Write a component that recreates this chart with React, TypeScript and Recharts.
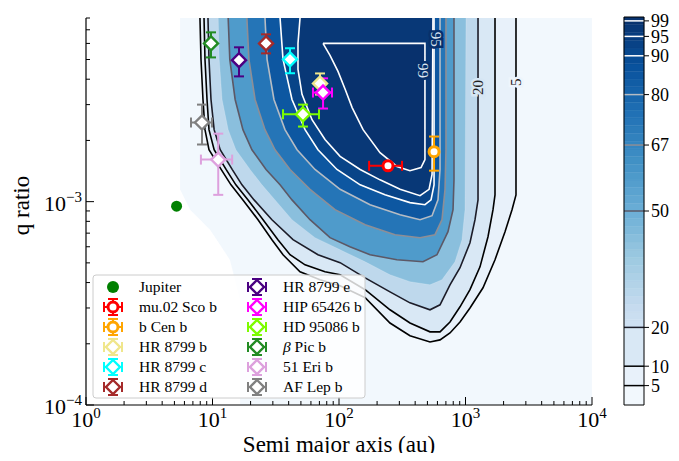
import React from 'react';
import {
  Bar,
  BarChart,
  ComposedChart,
  ErrorBar,
  ReferenceArea,
  ReferenceLine,
  Scatter,
  XAxis,
  YAxis,
} from 'recharts';

const FONT = '"Liberation Serif", "DejaVu Serif", serif';

// axis ticks
const X_TICKS = [
  1, 2, 3, 4, 5, 6, 7, 8, 9, 10, 20, 30, 40, 50, 60, 70, 80, 90, 100, 200, 300,
  400, 500, 600, 700, 800, 900, 1000, 2000, 3000, 4000, 5000, 6000, 7000, 8000,
  9000, 10000,
];
const Y_TICKS = [
  1e-4, 2e-4, 3e-4, 4e-4, 5e-4, 6e-4, 7e-4, 8e-4, 9e-4, 1e-3, 2e-3, 3e-3, 4e-3,
  5e-3, 6e-3, 7e-3, 8e-3,
];
const CB_TICKS = [5, 10, 20, 50, 67, 80, 90, 95, 99];
const CB_LEVELS = [
  0, 5, 10, 20, 22, 24, 26, 28, 30, 32, 34, 36, 38, 40, 42, 44, 46, 48, 50, 52,
  54, 56, 58, 60, 62, 64, 66, 68, 70, 72, 74, 76, 78, 80, 82, 84, 86, 88, 90, 92,
  94, 96, 98, 100,
];

// detection probability contours, [a (au), q]
const C0 = [
  [5.53, 8.0e-3], [5.53, 1.15e-3], [6.64, 9.13e-4], [9.55, 7.28e-4],
  [13.7, 5.18e-4], [16.5, 3.29e-4], [16.5, 1e-4], [10000, 1e-4], [10000, 8.0e-3],
];
const C5 = [
  [7.96, 8.0e-3], [8.11, 5.01e-3], [8.41, 3.18e-3], [8.72, 2.26e-3], [9.38, 1.8e-3],
  [11.7, 1.44e-3], [14.0, 1.21e-3], [17.4, 1.02e-3], [22.9, 8.15e-4], [29.5, 6.5e-4],
  [36.1, 5.48e-4], [49.2, 4.52e-4], [70.8, 4.13e-4], [102, 3.86e-4], [161, 3.37e-4],
  [253, 2.53e-4], [364, 2.19e-4], [524, 2.04e-4], [629, 2.09e-4], [754, 2.26e-4],
  [905, 2.56e-4], [1085, 3.0e-4], [1375, 3.77e-4], [1711, 5.18e-4], [2053, 7.12e-4],
  [2332, 9.13e-4], [2507, 1.08e-3], [2507, 8.0e-3],
];
const C10 = [
  [8.57, 8.0e-3], [8.72, 5.01e-3], [9.05, 3.18e-3], [9.38, 2.26e-3], [10.3, 1.8e-3],
  [12.8, 1.44e-3], [15.3, 1.21e-3], [19.1, 1.02e-3], [25.1, 8.15e-4], [32.9, 6.5e-4],
  [41.0, 5.48e-4], [53.9, 4.89e-4], [77.5, 4.52e-4], [102, 4.37e-4], [161, 3.69e-4],
  [253, 2.94e-4], [364, 2.53e-4], [524, 2.29e-4], [629, 2.29e-4], [754, 2.56e-4],
  [905, 3.04e-4], [1085, 3.69e-4], [1302, 4.78e-4], [1506, 6.72e-4], [1650, 9.13e-4],
  [1711, 1.08e-3], [1711, 8.0e-3],
];
const C20 = [
  [9.21, 8.0e-3], [9.38, 5.01e-3], [9.73, 3.18e-3], [10.3, 2.26e-3], [11.5, 1.8e-3],
  [14.3, 1.44e-3], [17.1, 1.21e-3], [21.3, 1.02e-3], [29.5, 8.15e-4], [43.3, 6.5e-4],
  [68.2, 5.48e-4], [102, 5.01e-4], [161, 4.22e-4], [253, 3.6e-4], [364, 3.18e-4],
  [524, 2.94e-4], [629, 3.11e-4], [754, 3.9e-4], [905, 4.73e-4], [1085, 6.28e-4],
  [1189, 8.15e-4], [1256, 1.02e-3], [1256, 8.0e-3],
];
const C35 = [
  [11.1, 8.0e-3], [11.3, 5.01e-3], [11.9, 3.18e-3], [13.3, 2.26e-3], [15.3, 1.8e-3],
  [19.8, 1.44e-3], [24.6, 1.21e-3], [31.2, 1.02e-3], [42.5, 8.15e-4], [64.6, 6.65e-4],
  [102, 5.8e-4], [161, 5.06e-4], [253, 4.37e-4], [364, 4.04e-4], [524, 3.9e-4],
  [652, 4.13e-4], [826, 5.06e-4], [938, 6.5e-4], [991, 9.13e-4], [1009, 8.0e-3],
];
const C50 = [
  [13.3, 8.0e-3], [13.7, 5.01e-3], [15.1, 3.18e-3], [17.4, 2.26e-3], [20.5, 1.8e-3],
  [26.5, 1.44e-3], [34.2, 1.21e-3], [42.5, 1.02e-3], [59.0, 8.15e-4], [84.9, 6.65e-4],
  [122, 6.0e-4], [176, 5.48e-4], [287, 5.18e-4], [461, 5.06e-4], [595, 5.48e-4],
  [727, 7.12e-4], [797, 9.13e-4], [811, 1.28e-3], [811, 8.0e-3],
];
const C67 = [
  [18.7, 8.0e-3], [19.4, 5.01e-3], [21.7, 3.18e-3], [26.0, 2.26e-3], [31.2, 1.8e-3],
  [41.0, 1.44e-3], [59.0, 1.15e-3], [93.0, 9.13e-4], [161, 7.7e-4], [277, 6.88e-4],
  [437, 6.65e-4], [574, 6.88e-4], [652, 8.15e-4], [689, 1.15e-3], [701, 1.8e-3],
  [701, 8.0e-3],
];
const C80 = [
  [26.0, 8.0e-3], [27.0, 5.01e-3], [30.6, 3.18e-3], [37.4, 2.26e-3], [46.6, 1.8e-3],
  [64.6, 1.44e-3], [102, 1.15e-3], [176, 9.66e-4], [304, 8.63e-4], [437, 8.15e-4],
  [544, 8.53e-4], [606, 1.02e-3], [629, 1.44e-3], [629, 8.0e-3],
];
const C90 = [
  [34.2, 8.0e-3], [36.1, 5.01e-3], [42.5, 3.18e-3], [53.9, 2.26e-3], [68.2, 1.8e-3],
  [96.4, 1.44e-3], [147, 1.21e-3], [231, 1.08e-3], [364, 9.89e-4], [478, 9.66e-4],
  [534, 1.02e-3], [564, 1.21e-3], [564, 8.0e-3],
];
const C95 = [
  [49.2, 8.0e-3], [47.4, 6.0e-3], [47.4, 4.47e-3], [51.0, 3.37e-3], [61.2, 2.53e-3],
  [77.5, 2.02e-3], [102, 1.67e-3], [147, 1.44e-3], [211, 1.28e-3], [304, 1.15e-3],
  [437, 1.07e-3], [515, 1.15e-3], [544, 1.36e-3], [553, 8.0e-3],
];
const C99 = [
  [74.7, 6.0e-3], [84.9, 5.24e-3], [98.2, 4.37e-3], [112, 3.56e-3], [127, 2.9e-3],
  [155, 2.26e-3], [211, 1.74e-3], [287, 1.49e-3], [364, 1.42e-3], [445, 1.47e-3],
  [478, 1.61e-3], [478, 6.0e-3], [74.7, 6.0e-3],
];

// contour labels
const LABEL_TEXT = ['5', '20', '99', '95'];
const LABEL_A = [2507, 1256, 461, 585];
const LABEL_Q = [3.86e-3, 3.64e-3, 4.42e-3, 6.28e-3];

// planets
const PLANET_NAMES = [
  'Jupiter', 'mu.02 Sco b', 'b Cen b', 'HR 8799 b', 'HR 8799 c', 'HR 8799 d',
  'HR 8799 e', 'HIP 65426 b', 'HD 95086 b', 'β Pic b', '51 Eri b', 'AF Lep b',
];
const PLANET_A = [5.2, 244, 564, 70.8, 41.0, 26.5, 16.2, 74.8, 51.9, 9.73, 11.1, 8.26];
const PLANET_Q = [
  9.5e-4, 1.5e-3, 1.76e-3, 3.81e-3, 5.01e-3, 6.0e-3, 4.96e-3, 3.44e-3, 2.69e-3,
  6.0e-3, 1.61e-3, 2.45e-3,
];
const PLANET_A_ERR = [
  null, [71, 71], null, null, null, null, null, [12.5, 13.2], [15.8, 17.6], null,
  [3.0, 3.2], [1.5, 1.65],
];
const PLANET_Q_ERR = [
  null, null, [0.34e-3, 0.33e-3], [0.45e-3, 0.46e-3], [0.73e-3, 0.67e-3],
  [0.64e-3, 0.65e-3], [0.83e-3, 0.78e-3], [0.57e-3, 0.6e-3], [0.35e-3, 0.31e-3],
  [0.88e-3, 0.8e-3], [0.53e-3, 0.55e-3], [0.54e-3, 0.55e-3],
];
const PLANET_COLORS = [
  '#008000', '#ff0000', '#ffa500', '#f0e68c', '#00ffff', '#a52a2a', '#4b0082',
  '#ff00ff', '#7cfc00', '#228b22', '#dda0dd', '#808080',
];
const PLANET_MARKERS = [
  'dot', 'circle', 'circle', 'diamond', 'diamond', 'diamond', 'diamond', 'diamond',
  'diamond', 'diamond', 'diamond', 'diamond',
];

const BLUES = [
  '#f7fbff', '#deebf7', '#c6dbef', '#9ecae1', '#6baed6', '#4292c6', '#2171b5',
  '#08519c', '#08306b',
];
const hex = (h: string) => [1, 3, 5].map((i) => parseInt(h.slice(i, i + 2), 16));
const blues = (t: number) => {
  const s = Math.max(0, Math.min(1, t)) * 8;
  const i = Math.min(7, Math.floor(s));
  const f = s - i;
  const a = hex(BLUES[i]);
  const b = hex(BLUES[i + 1]);
  return `rgb(${a.map((v, k) => Math.round(v + (b[k] - v) * f)).join(',')})`;
};

const LINE_COLOR: Record<number, string> = {
  5: '#000000',
  10: '#000000',
  20: '#1c1c28',
  50: '#5c5866',
  67: '#8e8e96',
  80: '#b6bcc4',
  90: '#ffffff',
  95: '#ffffff',
  99: '#ffffff',
};

const CONTOURS = [
  { level: 0, next: 5, pts: C0, line: false },
  { level: 5, next: 10, pts: C5, line: true },
  { level: 10, next: 20, pts: C10, line: true },
  { level: 20, next: 35, pts: C20, line: true },
  { level: 35, next: 50, pts: C35, line: false },
  { level: 50, next: 67, pts: C50, line: true },
  { level: 67, next: 80, pts: C67, line: true },
  { level: 80, next: 90, pts: C80, line: true },
  { level: 90, next: 95, pts: C90, line: true },
  { level: 95, next: 99, pts: C95, line: true },
  { level: 99, next: 100, pts: C99, line: true },
];

const toPts = (arr: number[][]) => arr.map(([a, q]) => ({ a, q }));

const isMajor = (v: number) =>
  Math.abs(Math.log10(v) - Math.round(Math.log10(v))) < 1e-6;
const sup = (v: number) => {
  const e = Math.round(Math.log10(v));
  return e < 0 ? `\u2212${Math.abs(e)}` : String(e);
};

const AXIS_LINE = { stroke: '#000', strokeWidth: 1.2 };

const BottomTick = (props: any) => {
  const { x, y, payload } = props;
  const major = isMajor(payload.value);
  return (
    <g>
      <line x1={x} x2={x} y1={y} y2={y - (major ? 8 : 4)} stroke="#000" />
      {major && (
        <text x={x} y={y + 22} textAnchor="middle" fontFamily={FONT} fontSize={22} fill="#000">
          10
          <tspan dy={-9} fontSize={15}>
            {sup(payload.value)}
          </tspan>
        </text>
      )}
    </g>
  );
};

const TopTick = (props: any) => {
  const { x, y, payload } = props;
  const major = isMajor(payload.value);
  return <line x1={x} x2={x} y1={y} y2={y + (major ? 8 : 4)} stroke="#000" />;
};

const LeftTick = (props: any) => {
  const { x, y, payload } = props;
  const major = isMajor(payload.value);
  return (
    <g>
      <line x1={x} x2={x + (major ? 8 : 4)} y1={y} y2={y} stroke="#000" />
      {major && (
        <text x={x - 4} y={y + 9} textAnchor="end" fontFamily={FONT} fontSize={22} fill="#000">
          10
          <tspan dy={-9} fontSize={15}>
            {sup(payload.value)}
          </tspan>
        </text>
      )}
    </g>
  );
};

const RightTick = (props: any) => {
  const { x, y, payload } = props;
  const major = isMajor(payload.value);
  return <line x1={x} x2={x - (major ? 8 : 4)} y1={y} y2={y} stroke="#000" />;
};

const XTitle = (props: any) => {
  const vb = props.viewBox || { x: 78, y: 397, width: 506, height: 56 };
  return (
    <text x={vb.x + vb.width / 2} y={vb.y + 47} textAnchor="middle" fontFamily={FONT} fontSize={23} fill="#000">
      Semi major axis (au)
    </text>
  );
};

const YTitle = (props: any) => {
  const vb = props.viewBox || { x: 0, y: 10, width: 78, height: 387 };
  const cx = vb.x + 13;
  const cy = vb.y + vb.height / 2 - 6;
  return (
    <text
      x={cx}
      y={cy}
      transform={`rotate(-90, ${cx}, ${cy})`}
      textAnchor="middle"
      dominantBaseline="central"
      fontFamily={FONT}
      fontSize={23}
      fill="#000"
    >
      q ratio
    </text>
  );
};

const Nothing = () => <g />;

const ContourLabel = (props: any) => {
  const { cx, cy, payload } = props;
  const light = payload.t === '99' || payload.t === '95';
  const rot = light ? 90 : -90;
  return (
    <text
      x={cx}
      y={cy}
      transform={`rotate(${rot}, ${cx}, ${cy})`}
      textAnchor="middle"
      dominantBaseline="central"
      fontFamily={FONT}
      fontSize={15}
      fill={light ? '#dde6f2' : '#222'}
      stroke={light ? '#08306b' : payload.t === '5' ? '#eef5fc' : '#d6e6f4'}
      strokeWidth={5}
      style={{ paintOrder: 'stroke' }}
    >
      {payload.t}
    </text>
  );
};

const markerShape = (i: number) => (props: any) => {
  const { cx, cy } = props;
  const c = PLANET_COLORS[i];
  if (PLANET_MARKERS[i] === 'dot') return <circle cx={cx} cy={cy} r={5.5} fill={c} />;
  if (PLANET_MARKERS[i] === 'circle')
    return <circle cx={cx} cy={cy} r={5} fill="#fff" stroke={c} strokeWidth={3} />;
  return (
    <polygon
      points={`${cx},${cy - 7} ${cx + 7},${cy} ${cx},${cy + 7} ${cx - 7},${cy}`}
      fill="#fff"
      stroke={c}
      strokeWidth={2.4}
    />
  );
};

const LegendGlyph = ({ i, x, y }: { i: number; x: number; y: number }) => {
  const c = PLANET_COLORS[i];
  if (PLANET_MARKERS[i] === 'dot') return <circle cx={x} cy={y} r={6} fill={c} />;
  return (
    <g stroke={c} strokeWidth={2}>
      <line x1={x} x2={x} y1={y - 8} y2={y + 8} />
      <line x1={x - 9} x2={x + 9} y1={y} y2={y} />
      <line x1={x - 5} x2={x + 5} y1={y - 8} y2={y - 8} />
      <line x1={x - 5} x2={x + 5} y1={y + 8} y2={y + 8} />
      <line x1={x - 9} x2={x - 9} y1={y - 5} y2={y + 5} />
      <line x1={x + 9} x2={x + 9} y1={y - 5} y2={y + 5} />
      {PLANET_MARKERS[i] === 'circle' ? (
        <circle cx={x} cy={y} r={5} fill="#fff" strokeWidth={3} />
      ) : (
        <polygon
          points={`${x},${y - 7} ${x + 7},${y} ${x},${y + 7} ${x - 7},${y}`}
          fill="#fff"
          strokeWidth={2.4}
        />
      )}
    </g>
  );
};

const LegendBox = () => (
  <svg
    width={274}
    height={125}
    style={{ position: 'absolute', left: 84, top: 266 }}
  >
    <rect x={1} y={1} width={272} height={123} rx={3} fill="rgba(255,255,255,0.8)" stroke="#cccccc" />
    {PLANET_NAMES.map((name, i) => {
      const col = Math.floor(i / 6);
      const row = i % 6;
      const gx = 21 + col * 144;
      const gy = 13 + row * 20;
      const isPic = name.startsWith('β');
      return (
        <g key={name}>
          <LegendGlyph i={i} x={gx} y={gy} />
          <text x={gx + 26} y={gy + 5} fontFamily={FONT} fontSize={15.5} fill="#000">
            {isPic ? (
              <>
                <tspan fontStyle="italic">β</tspan>
                {name.slice(1)}
              </>
            ) : (
              name
            )}
          </text>
        </g>
      );
    })}
  </svg>
);

const CB_BANDS = CB_LEVELS.slice(0, -1).map((lo, i) => ({
  key: `b${i}`,
  size: CB_LEVELS[i + 1] - lo,
  color: blues((lo + CB_LEVELS[i + 1]) / 200),
}));
const CB_ROW = [
  CB_BANDS.reduce((acc: Record<string, any>, b) => ({ ...acc, [b.key]: b.size }), { k: 'cb' }),
];

const Colorbar = () => (
  <div style={{ position: 'absolute', left: 610, top: 0 }}>
    <BarChart
      width={61}
      height={445}
      data={CB_ROW}
      margin={{ top: 9, right: 0, bottom: 48, left: 6 }}
      barCategoryGap={0}
      barGap={0}
    >
      <XAxis dataKey="k" hide />
      <YAxis
        orientation="right"
        type="number"
        domain={[0, 100]}
        ticks={CB_TICKS}
        interval={0}
        width={35}
        tickSize={5}
        tickMargin={2}
        axisLine={false}
        tickLine={{ stroke: '#000' }}
        tick={{ fontSize: 18, fontFamily: FONT, fill: '#000' }}
        allowDataOverflow
      />
      {CB_BANDS.map((b) => (
        <Bar key={b.key} dataKey={b.key} stackId="cb" fill={b.color} stroke={b.color} strokeWidth={0.4} isAnimationActive={false} />
      ))}
      {CB_TICKS.map((v) => (
        <ReferenceLine key={v} y={v} stroke={LINE_COLOR[v]} strokeWidth={1.5} />
      ))}
      <ReferenceArea y1={0} y2={100} fill="none" stroke="#000" strokeWidth={1} zIndex={2000} />
    </BarChart>
  </div>
);

export default function App() {
  return (
    <div style={{ position: 'relative', width: 671, height: 445 }}>
      <ComposedChart width={600} height={453} margin={{ top: 10, right: 16, bottom: 0, left: 0 }}>
        {CONTOURS.map((c) => (
          <Scatter
            key={`c${c.level}`}
            data={toPts(c.pts)}
            line={{
              fill: blues((c.level + c.next) / 200),
              stroke: c.line ? LINE_COLOR[c.level] : 'rgba(255,255,255,0.3)',
              strokeWidth: c.line ? 1.6 : 0.6,
            }}
            lineType="joint"
            shape={Nothing}
            isAnimationActive={false}
            zIndex={100}
          />
        ))}
        <XAxis
          dataKey="a"
          type="number"
          scale="log"
          domain={[1, 10000]}
          ticks={X_TICKS}
          interval={0}
          allowDataOverflow
          height={56}
          tickSize={0}
          tickMargin={0}
          tickLine={false}
          axisLine={AXIS_LINE}
          tick={BottomTick}
          label={{ content: XTitle }}
        />
        <XAxis
          xAxisId="t"
          orientation="top"
          type="number"
          scale="log"
          domain={[1, 10000]}
          ticks={X_TICKS}
          interval={0}
          allowDataOverflow
          height={0}
          tickSize={0}
          tickMargin={0}
          tickLine={false}
          axisLine={AXIS_LINE}
          tick={TopTick}
        />
        <YAxis
          dataKey="q"
          type="number"
          scale="log"
          domain={[1e-4, 8e-3]}
          ticks={Y_TICKS}
          interval={0}
          allowDataOverflow
          width={78}
          tickSize={0}
          tickMargin={0}
          tickLine={false}
          axisLine={AXIS_LINE}
          tick={LeftTick}
          label={{ content: YTitle }}
        />
        <YAxis
          yAxisId="r"
          orientation="right"
          type="number"
          scale="log"
          domain={[1e-4, 8e-3]}
          ticks={Y_TICKS}
          interval={0}
          allowDataOverflow
          width={0}
          tickSize={0}
          tickMargin={0}
          tickLine={false}
          axisLine={AXIS_LINE}
          tick={RightTick}
        />
        <Scatter
          data={LABEL_TEXT.map((t, i) => ({ a: LABEL_A[i], q: LABEL_Q[i], t }))}
          shape={ContourLabel}
          isAnimationActive={false}
        />
        {PLANET_NAMES.map((name, i) => (
          <Scatter
            key={name}
            data={[
              {
                a: PLANET_A[i],
                q: PLANET_Q[i],
                aErr: PLANET_A_ERR[i],
                qErr: PLANET_Q_ERR[i],
              },
            ]}
            shape={markerShape(i)}
            fill={PLANET_COLORS[i]}
            isAnimationActive={false}
          >
            {PLANET_A_ERR[i] && (
              <ErrorBar dataKey="aErr" direction="x" width={5} stroke={PLANET_COLORS[i]} strokeWidth={2} />
            )}
            {PLANET_Q_ERR[i] && (
              <ErrorBar dataKey="qErr" direction="y" width={5} stroke={PLANET_COLORS[i]} strokeWidth={2} />
            )}
          </Scatter>
        ))}
      </ComposedChart>
      <LegendBox />
      <Colorbar />
    </div>
  );
}
